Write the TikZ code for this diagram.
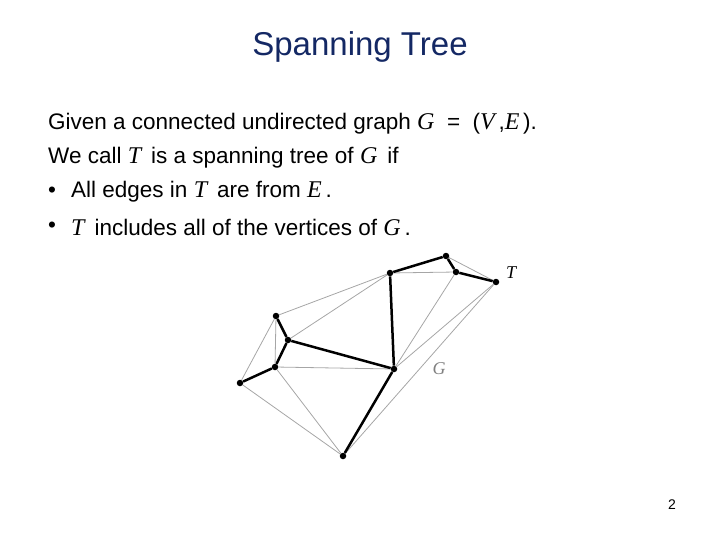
\documentclass[tikz,border=0pt]{standalone}
\usepackage{fontspec}
\setmainfont{Liberation Sans}
\newfontfamily\mathf{Liberation Serif}
\newcommand{\mv}[1]{{\mathf\itshape\fontsize{24}{26}\selectfont #1}}
\definecolor{titleblue}{RGB}{20,40,100}
\begin{document}
\begin{tikzpicture}[x=1pt,y=-1pt,
  vtx/.style={circle,fill=black,inner sep=0pt,minimum size=6.5pt},
  thin/.style={draw=black!35,line width=0.8pt},
  thick/.style={draw=black,line width=2.5pt},
  txt/.style={anchor=west,inner sep=0pt,font=\fontsize{22.5}{26}\selectfont}]
\useasboundingbox (0,0) rectangle (720,540);
\node[font=\fontsize{33}{36}\selectfont,text=titleblue] (title) at (360,47) {Spanning Tree};
\node[txt] (l1) at (48,124) {Given a connected undirected graph \mv{G} \ = \ (\mv{V}\,,\mv{E}\,).};
\node[txt] (l2) at (48,158) {We call \mv{T} \,is a spanning tree of \mv{G} \,if};
\node[txt] (b3) at (48,192) {•};
\node[txt] (l3) at (71,192) {All edges in \mv{T} \,are from \mv{E}\,.};
\node[txt] (b4) at (48,227) {•};
\node[txt] (l4) at (71,227) {\mv{T} \,includes all of the vertices of \mv{G}\,.};
\node[vtx] (A) at (240,383) {};
\node[vtx] (B) at (275,367) {};
\node[vtx] (C) at (288,340) {};
\node[vtx] (D) at (276,316) {};
\node[vtx] (E) at (390,273) {};
\node[vtx] (F) at (446,256) {};
\node[vtx] (H) at (456,272) {};
\node[vtx] (I) at (496,282) {};
\node[vtx] (J) at (394,369) {};
\node[vtx] (K) at (343,456) {};
\foreach \a/\b in {A/D,A/K,B/K,B/D,B/J,D/E,C/E,E/H,F/I,J/H,J/I,K/I}
  \draw[thin] (\a) -- (\b);
\foreach \a/\b in {D/C,C/B,B/A,C/J,J/E,E/F,F/H,H/I,J/K}
  \draw[thick] (\a) -- (\b);
\node[font=\fontsize{18}{20}\selectfont\mathf\itshape] (tl) at (511,273) {T};
\node[font=\fontsize{18}{20}\selectfont\mathf\itshape,text=black!50] (gl) at (439,369) {G};
\node[font=\fontsize{14}{16}\selectfont] (pg) at (672,505) {2};
\end{tikzpicture}
\end{document}
